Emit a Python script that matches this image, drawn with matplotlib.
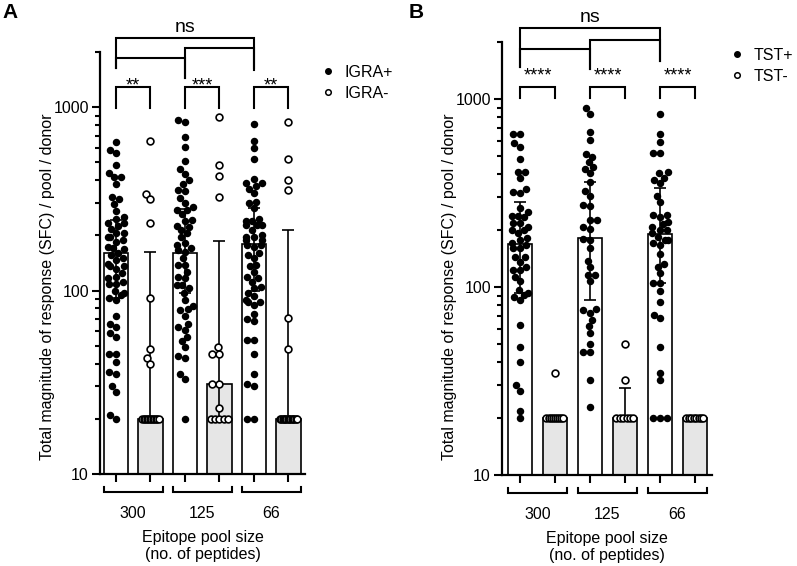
import numpy as np
import matplotlib.pyplot as plt
from matplotlib.lines import Line2D
from matplotlib.ticker import LogLocator, NullFormatter
from matplotlib.transforms import blended_transform_factory

plt.rcParams['font.family'] = ['Liberation Sans', 'DejaVu Sans']
plt.rcParams['font.size'] = 11.5

pool_labels = ['300', '125', '66']

# Panel A - IGRA+ / IGRA- donors (SFC / pool / donor)
igra_pos_300 = [643, 583, 560, 483, 438, 417, 414, 380, 322, 315, 296, 272, 251, 247,
                234, 234, 225, 218, 205, 205, 195, 195, 188, 185, 173, 170, 168, 160,
                156, 150, 147, 140, 136, 136, 131, 125, 119, 117, 112, 109, 109, 100,
                97, 95, 91, 89, 73, 66, 63, 59, 56, 45, 45, 41, 36, 35, 30, 28, 21, 20]
igra_neg_300 = [655, 336, 315, 235, 91, 48, 43, 40] + [20] * 12
igra_pos_125 = [849, 828, 684, 603, 510, 459, 431, 400, 380, 353, 349, 318, 299, 284,
                275, 275, 260, 244, 240, 225, 223, 214, 205, 195, 181, 177, 170, 166,
                163, 150, 138, 138, 127, 119, 117, 107, 107, 103, 97, 89, 82, 79, 78,
                73, 66, 63, 61, 56, 53, 49, 44, 43, 35, 33, 20]
igra_neg_125 = [883, 487, 422, 325, 49, 45, 45, 31, 31, 23] + [20] * 5
igra_pos_66 = [808, 655, 596, 519, 408, 384, 384, 370, 360, 340, 305, 299, 281, 247,
               241, 241, 227, 227, 227, 214, 200, 197, 197, 188, 188, 177, 177, 173,
               160, 156, 150, 138, 136, 127, 119, 117, 112, 105, 103, 97, 93, 89, 87,
               87, 83, 75, 70, 68, 54, 54, 45, 35, 31, 30, 20, 20]
igra_neg_66 = [828, 521, 400, 353, 71, 48] + [20] * 14

igra_bar = [160, 20, 161, 31, 179, 20]
igra_err_lo = [91, 20, 97, 20, 100, 20]
igra_err_hi = [242, 162, 278, 187, 281, 213]

# Panel B - TST+ / TST- donors
tst_pos_300 = [652, 652, 581, 557, 480, 411, 411, 379, 332, 321, 315, 262, 252, 239,
               239, 235, 220, 220, 209, 201, 201, 193, 182, 178, 171, 167, 161, 161,
               145, 145, 136, 128, 123, 123, 113, 107, 96, 93, 91, 89, 85, 63, 48, 40,
               30, 28, 22, 20]
tst_neg_300 = [35] + [20] * 9
tst_pos_125 = [892, 829, 670, 605, 510, 494, 460, 433, 424, 402, 363, 324, 305, 273,
               270, 227, 227, 209, 203, 179, 178, 161, 138, 127, 116, 116, 107, 76,
               75, 73, 67, 62, 57, 50, 45, 45, 32, 23]
tst_neg_125 = [50, 32] + [20] * 6
tst_pos_66 = [829, 652, 593, 518, 518, 411, 402, 381, 371, 356, 305, 282, 242, 242,
              235, 222, 217, 209, 201, 201, 193, 185, 178, 178, 171, 167, 150, 133,
              128, 118, 105, 105, 95, 83, 71, 68, 48, 35, 32, 20, 20, 20]
tst_neg_66 = [20] * 8

tst_bar = [169, 20, 182, 20, 191, 20]
tst_err_lo = [93, 20, 85, 20, 105, 20]
tst_err_hi = [284, 20, 363, 29, 335, 20]

ylabel = 'Total magnitude of response (SFC) / pool / donor'


def swarm_x(ax, x0, vals, d=7.0, lim=8.0, tie_lim=8.5):
    # simple beeswarm in pixel space, big ties get spread evenly across the bar
    vals = np.asarray(vals, float)
    n = len(vals)
    disp = ax.transData.transform(np.column_stack([np.full(n, x0), vals]))
    ys = disp[:, 1]
    dx = np.zeros(n)
    done = np.zeros(n, bool)
    pdx, py = [], []
    uniq, counts = np.unique(vals, return_counts=True)
    for u, c in zip(uniq, counts):
        if c >= 4:
            idx = np.where(vals == u)[0]
            dx[idx] = np.linspace(-tie_lim, tie_lim, c)
            done[idx] = True
            pdx += list(dx[idx])
            py += list(ys[idx])
    for i in np.argsort(ys, kind='stable'):
        if done[i]:
            continue
        near = [(a, b) for a, b in zip(pdx, py) if abs(b - ys[i]) < d]
        half = [np.sqrt(d * d - (b - ys[i]) ** 2) for a, b in near]
        cands = [0.0]
        for (a, b), h in zip(near, half):
            cands += [a - h, a + h]
        cands.sort(key=abs)
        best = cands[0]
        for c in cands:
            if all(abs(c - a) >= h - 1e-6 for (a, b), h in zip(near, half)):
                best = c
                break
        best = float(np.clip(best, -lim, lim))
        dx[i] = best
        pdx.append(best)
        py.append(ys[i])
    return ax.transData.inverted().transform(np.column_stack([disp[:, 0] + dx, ys]))[:, 0]


def seg(fig, ax, xs, ys_px, ref, lw=1.5):
    # polyline: x in data coords, y = axes fraction `ref` plus pixel offsets
    tr = blended_transform_factory(ax.transData, ax.transAxes)
    y0 = tr.transform((0, ref))[1]
    inv = fig.transFigure.inverted()
    pts = [inv.transform((tr.transform((x, ref))[0], y0 + yp)) for x, yp in zip(xs, ys_px)]
    fig.add_artist(Line2D([p[0] for p in pts], [p[1] for p in pts], color='black', lw=lw,
                          solid_joinstyle='miter', solid_capstyle='projecting'))


def ftext(fig, ax, x, ref, y_px, s, **kw):
    tr = blended_transform_factory(ax.transData, ax.transAxes)
    xd, yd = tr.transform((x, ref))
    fx, fy = fig.transFigure.inverted().transform((xd, yd + y_px))
    fig.text(fx, fy, s, **kw)


def draw_panel(fig, ax, sp):
    pos = np.arange(6)
    ax.set_yscale('log')
    ax.set_xlim(*sp['xlim'])
    ax.set_ylim(10, 2000)
    fills = ['white', '#e6e6e6'] * 3
    ax.bar(pos, sp['bars'], width=0.7, color=fills, edgecolor='black', linewidth=1.2, zorder=1)

    bars = np.array(sp['bars'], float)
    lo = np.array(sp['lo'], float)
    hi = np.array(sp['hi'], float)
    show = (hi > bars) | (lo < bars)
    ax.errorbar(pos[show], bars[show], yerr=[bars[show] - lo[show], hi[show] - bars[show]],
                fmt='none', ecolor='black', elinewidth=1.2, capsize=4.3, capthick=1.2,
                zorder=2)

    for i, vals in enumerate(sp['cols']):
        xs = swarm_x(ax, pos[i], vals)
        if i % 2 == 0:
            ax.scatter(xs, vals, s=29, color='black', linewidths=0, zorder=3, clip_on=False)
        else:
            ax.scatter(xs, vals, s=24, facecolor='white', edgecolor='black',
                       linewidths=1.2, zorder=3, clip_on=False)

    for s in ['top', 'right']:
        ax.spines[s].set_visible(False)
    for s in ['left', 'bottom']:
        ax.spines[s].set_linewidth(1.6)
    ax.set_yticks([10, 100, 1000])
    ax.set_yticklabels(['10', '100', '1000'])
    ax.yaxis.set_minor_locator(LogLocator(base=10, subs=np.arange(2, 10)))
    ax.yaxis.set_minor_formatter(NullFormatter())
    ax.tick_params(axis='y', which='major', length=6, width=1.5, labelsize=11.5, pad=2)
    ax.tick_params(axis='y', which='minor', length=3.5, width=1.5)
    ax.set_xticks(pos)
    ax.set_xticklabels([])
    ax.tick_params(axis='x', length=6, width=1.5)
    ax.set_ylabel(ylabel, fontsize=11.5, labelpad=-1, y=sp['ylab_y'])

    # group brackets and pool size labels
    xmid = (sp['xlim'][0] + sp['xlim'][1]) / 2
    for g, lab in enumerate(pool_labels):
        x0, x1 = 2 * g - 0.35, 2 * g + 1.35
        seg(fig, ax, [x0, x0, x1, x1], [-13, -18, -18, -13], 0)
        ftext(fig, ax, 2 * g + 0.5, 0, -44, lab, ha='center', va='baseline', fontsize=11.5)
    ftext(fig, ax, xmid, 0, -68, 'Epitope pool size', ha='center', va='baseline', fontsize=11.5)
    ftext(fig, ax, xmid, 0, -85, '(no. of peptides)', ha='center', va='baseline', fontsize=11.5)

    # pairwise brackets with stars
    p_top, p_end = sp['pair']
    for g, st in enumerate(sp['stars']):
        x0, x1 = 2 * g, 2 * g + 1
        seg(fig, ax, [x0, x0, x1, x1], [p_end, p_top, p_top, p_end], 1)
        ftext(fig, ax, x0 + 0.5, 1, -38, st, ha='center', va='baseline', fontsize=13)

    # pool-size comparison brackets
    for a, b, yt, ya, yb in sp['brackets']:
        seg(fig, ax, [a, a, b, b], [ya, yt, yt, yb], 1)
    ftext(fig, ax, 2, 1, 20, 'ns', ha='center', va='baseline', fontsize=14)

    # legend
    lx, ly = sp['leg_xy']
    h = [Line2D([], [], marker='o', ls='', color='black', markersize=4),
         Line2D([], [], marker='o', ls='', markerfacecolor='white', markeredgecolor='black',
                markeredgewidth=1.1, markersize=4)]
    ax.legend(h, sp['labels'], loc='upper left', frameon=False, fontsize=11.5,
              bbox_to_anchor=((lx - 6) / 797, 1 - (ly - 9) / 566), bbox_transform=fig.transFigure,
              handlelength=0.8, handletextpad=0.6, labelspacing=0.35, borderpad=0,
              borderaxespad=0)

    lx, ly = sp['letter_xy']
    fig.text(lx / 797, 1 - ly / 566, sp['letter'], fontsize=15, fontweight='bold',
             ha='center', va='center')


fig = plt.figure(figsize=(7.97, 5.66), dpi=100)
axA = fig.add_axes([100 / 797, 1 - 474 / 566, 205 / 797, 422 / 566])
axB = fig.add_axes([502 / 797, 1 - 475 / 566, 210 / 797, 432.6 / 566])

specs = [
    dict(ax=axA, cols=[igra_pos_300, igra_neg_300, igra_pos_125, igra_neg_125, igra_pos_66, igra_neg_66],
         bars=igra_bar, lo=igra_err_lo, hi=igra_err_hi, stars=['**', '***', '**'],
         labels=['IGRA+', 'IGRA-'], xlim=(-0.464, 5.48), pair=(-35, -56),
         brackets=[(0, 4, 14, -16, -16), (0, 2, -6, -16, -26), (2, 4, 4, -26, -18)],
         letter='A', letter_xy=(10, 12), leg_xy=(328, 74), ylab_y=0.443),
    dict(ax=axB, cols=[tst_pos_300, tst_neg_300, tst_pos_125, tst_neg_125, tst_pos_66, tst_neg_66],
         bars=tst_bar, lo=tst_err_lo, hi=tst_err_hi, stars=['****', '****', '****'],
         labels=['TST+', 'TST-'], xlim=(-0.514, 5.486), pair=(-45, -56),
         brackets=[(0, 4, 14, -25, -19), (0, 2, -7, -25, -27), (2, 4, 2, -27, -19)],
         letter='B', letter_xy=(416, 12), leg_xy=(737, 57), ylab_y=0.435),
]

for sp in specs:
    draw_panel(fig, sp['ax'], sp)

fig.savefig('out.png', dpi=100)
